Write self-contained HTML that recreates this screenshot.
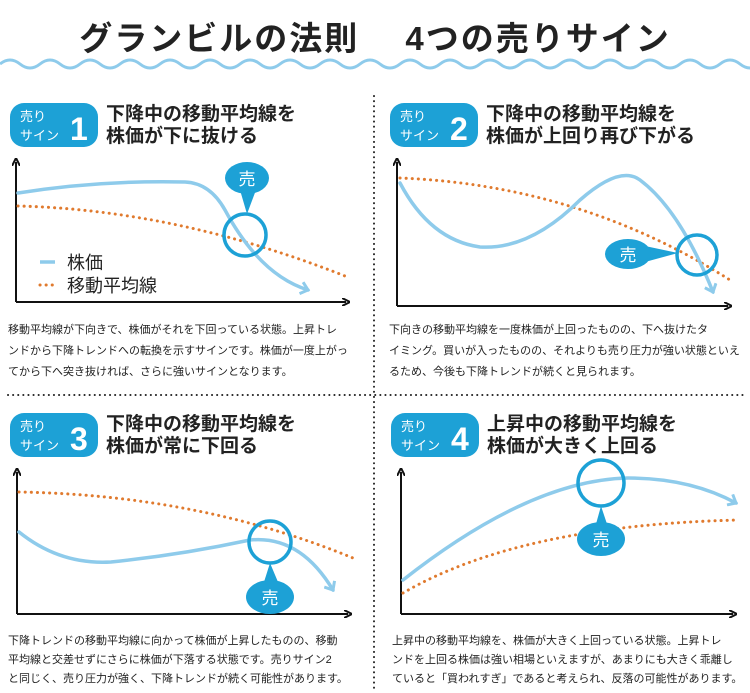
<!DOCTYPE html>
<html><head><meta charset="utf-8"><style>
body{margin:0;background:#fff;}
svg{display:block;font-family:"Liberation Sans","Noto Sans CJK JP",sans-serif;}
.t{font-size:19px;font-weight:bold;fill:#222;}
.d{font-size:11px;fill:#222;}
.b{font-size:13px;fill:#fff;}
.n{font-size:32px;fill:#fff;font-weight:bold;}
.price{fill:none;stroke:#8ecbeb;stroke-width:3.5;stroke-linecap:round;}
.ma{fill:none;stroke:#e07a2e;stroke-width:3;stroke-dasharray:0.1 6;stroke-linecap:round;}
.ax{fill:none;stroke:#111;stroke-width:2;}
.c{fill:none;stroke:#1da1d6;stroke-width:3.5;}
</style></head><body>
<svg width="750" height="693" viewBox="0 0 750 693">
<defs>
<marker id="ah" markerWidth="8" markerHeight="8" refX="4" refY="4" orient="auto" markerUnits="userSpaceOnUse"><path d="M0,0 L8,4 L0,8" fill="none" stroke="#111" stroke-width="2"/></marker>
<marker id="pa" markerWidth="14" markerHeight="14" refX="8" refY="7" orient="auto" markerUnits="userSpaceOnUse"><path d="M1,1 L8,7 L1,13" fill="none" stroke="#8ecbeb" stroke-width="3"/></marker>
</defs>
<text x="375" y="50" text-anchor="middle" style="font-size:33px;font-weight:bold;fill:#222;letter-spacing:2px">グランビルの法則　 4つの売りサイン</text>
<path d="M0,64 q10,-8 20,0 t20,0 t20,0 t20,0 t20,0 t20,0 t20,0 t20,0 t20,0 t20,0 t20,0 t20,0 t20,0 t20,0 t20,0 t20,0 t20,0 t20,0 t20,0 t20,0 t20,0 t20,0 t20,0 t20,0 t20,0 t20,0 t20,0 t20,0 t20,0 t20,0 t20,0 t20,0 t20,0 t20,0 t20,0 t20,0 t20,0 t20,0" fill="none" stroke="#8ecbeb" stroke-width="3"/>
<line x1="374" y1="96" x2="374" y2="690" stroke="#222" stroke-width="2" stroke-dasharray="0.1 5" stroke-linecap="round"/>
<line x1="8" y1="395" x2="745" y2="395" stroke="#222" stroke-width="2" stroke-dasharray="0.1 5" stroke-linecap="round"/>

<!-- Panel 1 -->
<rect x="10" y="103" width="88" height="44" rx="14" fill="#1da1d6"/>
<text x="20" y="121" class="b">売り</text><text x="20" y="140" class="b">サイン</text><text x="70" y="140" class="n">1</text>
<text x="106" y="120" class="t">下降中の移動平均線を</text><text x="106" y="142" class="t">株価が下に抜ける</text>
<path d="M16,302 V162" class="ax" marker-end="url(#ah)"/><path d="M16,302 H346" class="ax" marker-end="url(#ah)"/>
<path d="M18,206 Q180,210 350,278" class="ma"/>
<path d="M18,193 Q100,180 185,182 Q210,183 225,210 Q260,275 308,290" class="price" marker-end="url(#pa)"/>
<circle cx="245" cy="235" r="21" class="c"/>
<path d="M240,190 L247,214 L256,190 Z" fill="#1da1d6"/>
<ellipse cx="247" cy="178" rx="22" ry="16" fill="#1da1d6"/><text x="247" y="185" text-anchor="middle" class="b" style="font-size:17px">売</text>
<line x1="40" y1="262" x2="55" y2="262" stroke="#8ecbeb" stroke-width="3.5"/>
<text x="67" y="269" style="font-size:18px;fill:#222">株価</text>
<line x1="40" y1="285" x2="57" y2="285" class="ma"/>
<text x="67" y="292" style="font-size:18px;fill:#222">移動平均線</text>
<text x="8" y="333" class="d">移動平均線が下向きで、株価がそれを下回っている状態。上昇トレ</text>
<text x="8" y="354" class="d">ンドから下降トレンドへの転換を示すサインです。株価が一度上がっ</text>
<text x="8" y="375" class="d">てから下へ突き抜ければ、さらに強いサインとなります。</text>

<!-- Panel 2 -->
<rect x="390" y="103" width="88" height="44" rx="14" fill="#1da1d6"/>
<text x="400" y="121" class="b">売り</text><text x="400" y="140" class="b">サイン</text><text x="450" y="140" class="n">2</text>
<text x="486" y="120" class="t">下降中の移動平均線を</text><text x="486" y="142" class="t">株価が上回り再び下がる</text>
<path d="M397,306 V162" class="ax" marker-end="url(#ah)"/><path d="M397,306 H728" class="ax" marker-end="url(#ah)"/>
<path d="M400,178 Q580,185 730,280" class="ma"/>
<path d="M400,183 Q430,240 480,247 Q530,250 580,200 Q620,165 640,180 Q680,210 713,292" class="price" marker-end="url(#pa)"/>
<circle cx="697" cy="255" r="20" class="c"/>
<path d="M645,246 L678,253 L645,262 Z" fill="#1da1d6"/>
<ellipse cx="628" cy="254" rx="23" ry="15" fill="#1da1d6"/><text x="628" y="261" text-anchor="middle" class="b" style="font-size:17px">売</text>
<text x="389" y="333" class="d">下向きの移動平均線を一度株価が上回ったものの、下へ抜けたタ</text>
<text x="389" y="354" class="d">イミング。買いが入ったものの、それよりも売り圧力が強い状態といえ</text>
<text x="389" y="375" class="d">るため、今後も下降トレンドが続くと見られます。</text>

<!-- Panel 3 -->
<rect x="10" y="413" width="88" height="44" rx="14" fill="#1da1d6"/>
<text x="20" y="431" class="b">売り</text><text x="20" y="450" class="b">サイン</text><text x="70" y="450" class="n">3</text>
<text x="106" y="430" class="t">下降中の移動平均線を</text><text x="106" y="452" class="t">株価が常に下回る</text>
<path d="M17,614 V472" class="ax" marker-end="url(#ah)"/><path d="M17,614 H348" class="ax" marker-end="url(#ah)"/>
<path d="M19,492 Q200,495 353,558" class="ma"/>
<path d="M19,532 Q60,565 111,562 Q180,555 250,540 Q300,535 333,590" class="price" marker-end="url(#pa)"/>
<circle cx="270" cy="542" r="21" class="c"/>
<path d="M264,582 L270,563 L278,582 Z" fill="#1da1d6"/>
<ellipse cx="270" cy="597" rx="24" ry="17" fill="#1da1d6"/><text x="270" y="604" text-anchor="middle" class="b" style="font-size:17px">売</text>
<text x="8" y="644" class="d">下降トレンドの移動平均線に向かって株価が上昇したものの、移動</text>
<text x="8" y="663" class="d">平均線と交差せずにさらに株価が下落する状態です。売りサイン2</text>
<text x="8" y="682" class="d">と同じく、売り圧力が強く、下降トレンドが続く可能性があります。</text>

<!-- Panel 4 -->
<rect x="391" y="413" width="88" height="44" rx="14" fill="#1da1d6"/>
<text x="401" y="431" class="b">売り</text><text x="401" y="450" class="b">サイン</text><text x="451" y="450" class="n">4</text>
<text x="487" y="430" class="t">上昇中の移動平均線を</text><text x="487" y="452" class="t">株価が大きく上回る</text>
<path d="M401,614 V472" class="ax" marker-end="url(#ah)"/><path d="M401,614 H733" class="ax" marker-end="url(#ah)"/>
<path d="M403,593 Q520,525 739,520" class="ma"/>
<path d="M403,580 Q530,480 628,478 Q690,478 736,503" class="price" marker-end="url(#pa)"/>
<circle cx="601" cy="483" r="23" class="c"/>
<path d="M596,524 L601,506 L607,524 Z" fill="#1da1d6"/>
<ellipse cx="601" cy="539" rx="24" ry="17" fill="#1da1d6"/><text x="601" y="546" text-anchor="middle" class="b" style="font-size:17px">売</text>
<text x="392" y="644" class="d">上昇中の移動平均線を、株価が大きく上回っている状態。上昇トレ</text>
<text x="392" y="663" class="d">ンドを上回る株価は強い相場といえますが、あまりにも大きく乖離し</text>
<text x="392" y="682" class="d">ていると「買われすぎ」であると考えられ、反落の可能性があります。</text>
</svg>
</body></html>
